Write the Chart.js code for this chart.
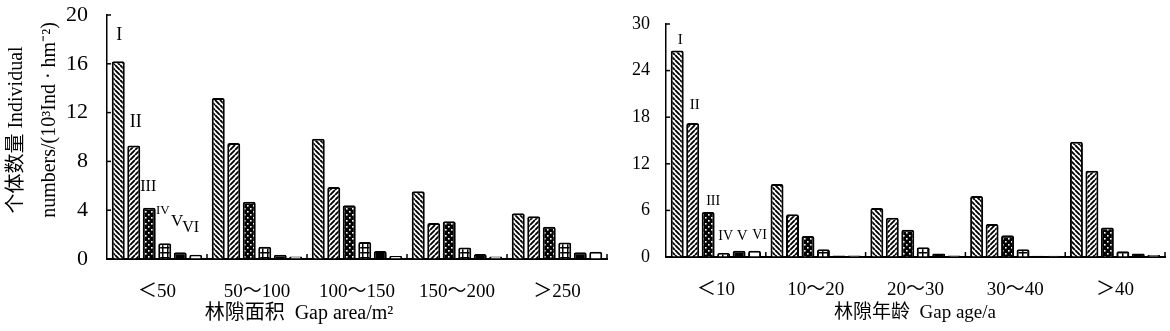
<!DOCTYPE html>
<html lang="zh">
<head>
<meta charset="UTF-8">
<title>林隙面积与林隙年龄 个体数量</title>
<script src="https://cdn.jsdelivr.net/npm/chart.js@4.4.0/dist/chart.umd.min.js"></script>
<style>
  body { margin: 0; background: #fff; }
  .wrap { position: relative; width: 1170px; height: 331px; }
  #area-box { position: absolute; left: 0; top: 0; width: 620px; height: 331px; }
  #age-box { position: absolute; left: 620px; top: 0; width: 550px; height: 331px; }
</style>
</head>
<body>
<div class="wrap">
  <div id="area-box"><canvas id="area-chart"></canvas></div>
  <div id="age-box"><canvas id="age-chart"></canvas></div>
</div>
<script>
  const stages = ['I', 'II', 'III', 'IV', 'V', 'VI'];

  // gap area chart
  const areaCategories = ['＜50', '50～100', '100～150', '150～200', '＞250'];
  const areaI   = [16.2, 13.2, 9.85, 5.55, 3.75];
  const areaII  = [9.3, 9.5, 5.9, 2.95, 3.5];
  const areaIII = [4.2, 4.7, 4.4, 3.1, 2.65];
  const areaIV  = [1.3, 1.0, 1.4, 0.95, 1.35];
  const areaV   = [0.55, 0.35, 0.65, 0.4, 0.55];
  const areaVI  = [0.35, 0.2, 0.25, 0.2, 0.6];
  const areaTicks = [0, 4, 8, 12, 16, 20];

  // gap age chart
  const ageCategories = ['＜10', '10～20', '20～30', '30～40', '＞40'];
  const ageI   = [26.6, 9.4, 6.3, 7.85, 14.85];
  const ageII  = [17.25, 5.5, 5.05, 4.25, 11.1];
  const ageIII = [5.8, 2.7, 3.5, 2.8, 3.8];
  const ageIV  = [0.5, 1.0, 1.25, 1.0, 0.75];
  const ageV   = [0.8, 0.2, 0.45, 0.15, 0.45];
  const ageVI  = [0.8, 0.2, 0.2, 0.15, 0.25];
  const ageTicks = [0, 6, 12, 18, 24, 30];

  const SERIF = "'Liberation Serif', 'Noto Sans CJK SC', serif";

  function tile(size, paint) {
    const c = document.createElement('canvas');
    c.width = c.height = size;
    paint(c.getContext('2d'), size);
    return c;
  }

  function makeFills(ctx) {
    const back = tile(5, (g, s) => {
      g.fillStyle = '#fff'; g.fillRect(0, 0, s, s);
      g.strokeStyle = '#000'; g.lineWidth = 1.9;
      g.beginPath();
      [-s, 0, s].forEach(k => { g.moveTo(k, 0); g.lineTo(k + s, s); });
      g.stroke();
    });
    const fwd = tile(5, (g, s) => {
      g.fillStyle = '#fff'; g.fillRect(0, 0, s, s);
      g.strokeStyle = '#000'; g.lineWidth = 1.9;
      g.beginPath();
      [-s, 0, s].forEach(k => { g.moveTo(k, s); g.lineTo(k + s, 0); });
      g.stroke();
    });
    const dots = tile(6, (g, s) => {
      g.fillStyle = '#000'; g.fillRect(0, 0, s, s);
      g.fillStyle = '#fff';
      g.fillRect(1, 1, 1.6, 1.6);
      g.fillRect(4, 4, 1.6, 1.6);
    });
    const cross = tile(5, (g, s) => {
      g.fillStyle = '#fff'; g.fillRect(0, 0, s, s);
      g.fillStyle = '#000';
      g.fillRect(2, 0, 1.5, s);
      g.fillRect(0, 2, s, 1.5);
    });
    return [
      ctx.createPattern(back, 'repeat'),
      ctx.createPattern(fwd, 'repeat'),
      ctx.createPattern(dots, 'repeat'),
      ctx.createPattern(cross, 'repeat'),
      '#000',
      '#fff'
    ];
  }

  // draws stage numerals, inner ticks and axis titles
  const decorPlugin = {
    id: 'decor',
    afterDraw(chart, args, opts) {
      const ctx = chart.ctx;
      const xs = chart.scales.x, ys = chart.scales.y;
      const area = chart.chartArea;
      ctx.save();
      ctx.strokeStyle = '#000';
      ctx.lineWidth = 1.5;
      // inward y ticks
      ys.ticks.forEach(t => {
        if (t.value === 0) return;
        const y = ys.getPixelForValue(t.value);
        ctx.beginPath(); ctx.moveTo(area.left, y); ctx.lineTo(area.left + 4, y); ctx.stroke();
      });
      // small up ticks at group boundaries
      const step = xs.getPixelForValue(1) - xs.getPixelForValue(0);
      for (let i = 0; i < xs.ticks.length; i++) {
        const x = xs.getPixelForValue(i) + step / 2;
        ctx.beginPath(); ctx.moveTo(x, area.bottom); ctx.lineTo(x, area.bottom - 5); ctx.stroke();
      }
      // stage numerals over the first group
      ctx.fillStyle = '#000';
      ctx.textAlign = 'center';
      ctx.textBaseline = 'middle';
      stages.forEach((s, i) => {
        const bar = chart.getDatasetMeta(i).data[0];
        ctx.font = opts.numSize[i] + 'px ' + SERIF;
        ctx.fillText(s, bar.x + opts.numDx[i], bar.y - opts.numLift[i]);
      });
      // x title
      ctx.font = opts.xTitleSize + 'px ' + SERIF;
      ctx.fillText(opts.xTitle, area.left + opts.xTitleDx, opts.xTitleY);
      // y title lines
      ctx.font = '20px ' + SERIF;
      (opts.yTitle || []).forEach(line => {
        ctx.save();
        ctx.translate(line.x, line.y);
        ctx.rotate(-Math.PI / 2);
        ctx.fillText(line.text, 0, 0);
        ctx.restore();
      });
      ctx.restore();
    }
  };

  function buildChart(id, categories, series, ticks, cfg) {
    const ctx = document.getElementById(id).getContext('2d');
    const fills = makeFills(ctx);
    return new Chart(ctx, {
      type: 'bar',
      data: {
        labels: categories,
        datasets: series.map((values, i) => ({
          label: stages[i],
          data: values,
          backgroundColor: fills[i],
          borderColor: '#000',
          borderWidth: 2,
          borderRadius: 2,
          borderSkipped: 'start',
          categoryPercentage: 0.93,
          barPercentage: 0.84
        }))
      },
      options: {
        responsive: true,
        maintainAspectRatio: false,
        animation: false,
        layout: { padding: { top: cfg.top, right: cfg.right, left: 0, bottom: 0 } },
        plugins: {
          legend: { display: false },
          tooltip: { enabled: false },
          decor: cfg.decor
        },
        scales: {
          x: {
            grid: { display: false, drawTicks: false },
            border: { display: true, color: '#000', width: 2 },
            ticks: { color: '#000', font: { family: SERIF, size: cfg.xFont }, padding: 22, maxRotation: 0 },
            afterFit: s => { s.height = cfg.xHeight; }
          },
          y: {
            min: ticks[0],
            max: ticks[ticks.length - 1],
            // invisible tick marks give the gap between labels and axis
            grid: { display: true, drawOnChartArea: false, drawTicks: true,
                    tickLength: cfg.yGap, tickColor: 'rgba(0,0,0,0)', color: 'rgba(0,0,0,0)' },
            border: { display: true, color: '#000', width: 1.5 },
            afterBuildTicks: s => { s.ticks = ticks.map(v => ({ value: v })); },
            ticks: { color: '#000', font: { family: SERIF, size: cfg.yFont }, padding: 0 },
            afterFit: s => { s.width = cfg.yWidth; }
          }
        }
      },
      plugins: [decorPlugin]
    });
  }

  buildChart('area-chart', areaCategories,
    [areaI, areaII, areaIII, areaIV, areaV, areaVI], areaTicks, {
      top: 15, right: 13, xHeight: 72, yWidth: 107, yFont: 22, yGap: 19, xFont: 19,
      decor: {
        numSize: [18, 18, 16, 13, 17, 16],
        numDx: [1, 2, -1, -2, -3, -5],
        numLift: [26, 23, 21, 33, 31, 27],
        xTitle: '林隙面积  Gap area/m²',
        xTitleSize: 20,
        xTitleDx: 192,
        xTitleY: 314,
        yTitle: [
          { text: '个体数量 Individual', x: 17, y: 130 },
          { text: 'numbers/(10³Ind · hm⁻²)', x: 50, y: 120 }
        ]
      }
    });

  buildChart('age-chart', ageCategories,
    [ageI, ageII, ageIII, ageIV, ageV, ageVI], ageTicks, {
      top: 24, right: 5, xHeight: 74, yWidth: 46, yFont: 18, yGap: 16, xFont: 19,
      decor: {
        numSize: [15, 15, 14, 14, 15, 14],
        numDx: [3, 2, 5, 2, 3, 5],
        numLift: [10, 18, 11, 17, 15, 15],
        xTitle: '林隙年龄  Gap age/a',
        xTitleSize: 19,
        xTitleDx: 249,
        xTitleY: 313
      }
    });
</script>
</body>
</html>
